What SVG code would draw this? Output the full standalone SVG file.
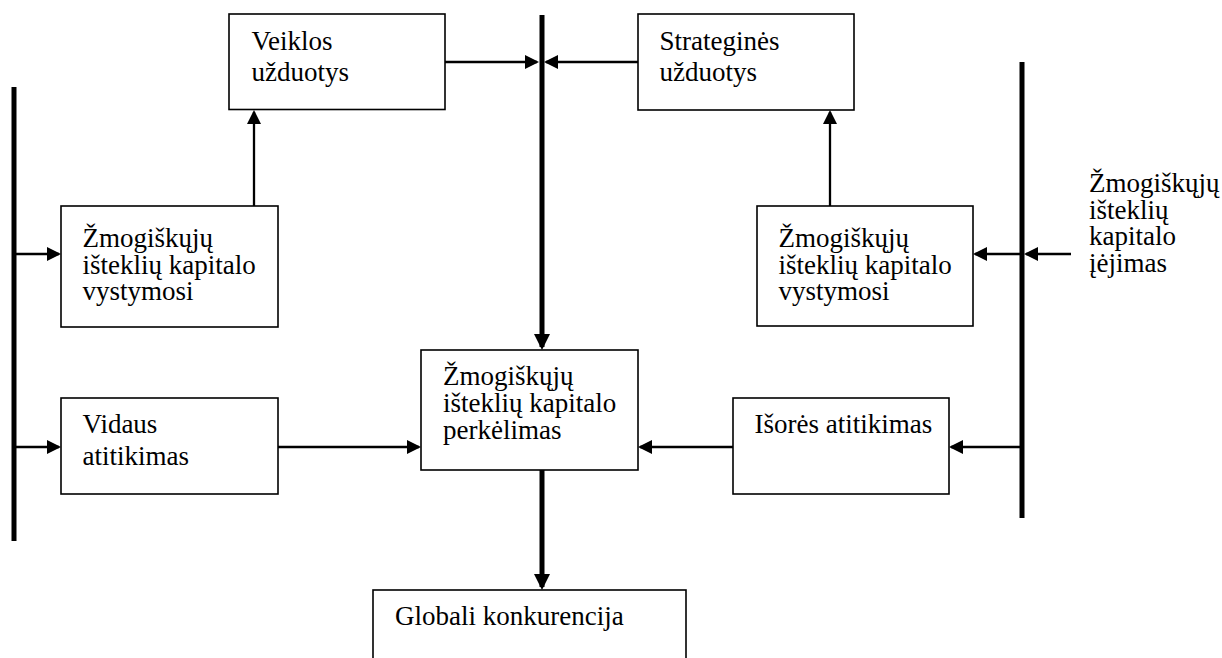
<svg xmlns="http://www.w3.org/2000/svg" width="1222" height="658" viewBox="0 0 1222 658">
  <style>
    .box { fill: #ffffff; stroke: #000000; stroke-width: 1.6; }
    .lbl { font-family: "Liberation Serif", "Times New Roman", serif; font-size: 27px; fill: #000000; }
    .bar { stroke: #000000; stroke-width: 5; fill: none; }
    .thin { stroke: #000000; stroke-width: 2.3; fill: none; marker-end: url(#head); }
    .thick { stroke: #000000; stroke-width: 5; fill: none; marker-end: url(#headBig); }
  </style>
  <defs>
    <marker id="head" viewBox="0 0 14 14" refX="12" refY="7" markerWidth="14" markerHeight="14" markerUnits="userSpaceOnUse" orient="auto">
      <path d="M0,0 L14,7 L0,14 z" fill="#000000"/>
    </marker>
    <marker id="headBig" viewBox="0 0 16 16" refX="13" refY="8" markerWidth="16" markerHeight="16" markerUnits="userSpaceOnUse" orient="auto">
      <path d="M0,0 L16,8 L0,16 z" fill="#000000"/>
    </marker>
  </defs>
  <rect width="1222" height="658" fill="#ffffff"/>

  <!-- bus bars and connectors -->
  <g id="connectors">
    <line class="bar" x1="14" y1="87" x2="14" y2="541"/>
    <line class="bar" x1="1022" y1="62" x2="1022" y2="518"/>
    <line class="thick" x1="542" y1="15" x2="542" y2="347"/>
    <line class="thick" x1="542" y1="470" x2="542" y2="587"/>

    <line class="thin" x1="445" y1="62" x2="537" y2="62"/>
    <line class="thin" x1="638" y1="62" x2="546" y2="62"/>

    <line class="thin" x1="254" y1="206" x2="254" y2="112"/>
    <line class="thin" x1="830" y1="206" x2="830" y2="112"/>

    <line class="thin" x1="16" y1="254" x2="59" y2="254"/>
    <line class="thin" x1="16" y1="447" x2="59" y2="447"/>

    <line class="thin" x1="1020" y1="254" x2="975" y2="254"/>
    <line class="thin" x1="1071" y1="254" x2="1026" y2="254"/>
    <line class="thin" x1="1020" y1="447" x2="951" y2="447"/>

    <line class="thin" x1="278" y1="447" x2="419" y2="447"/>
    <line class="thin" x1="733" y1="447" x2="640" y2="447"/>
  </g>

  <g id="veiklos-uzduotys">
    <rect class="box" x="229" y="14" width="216" height="95.5"/>
    <text class="lbl" x="251.5" y="50">Veiklos</text>
    <text class="lbl" x="251.5" y="81">užduotys</text>
  </g>

  <g id="strategines-uzduotys">
    <rect class="box" x="638" y="14" width="216" height="96"/>
    <text class="lbl" x="659.5" y="49.5">Strateginės</text>
    <text class="lbl" x="659.5" y="81">užduotys</text>
  </g>

  <g id="vystymosi-vidinis">
    <rect class="box" x="61" y="206" width="217" height="121"/>
    <text class="lbl" x="82.5" y="246.5">Žmogiškųjų</text>
    <text class="lbl" x="82.5" y="273.5">išteklių kapitalo</text>
    <text class="lbl" x="82.5" y="300">vystymosi</text>
  </g>

  <g id="vystymosi-isorinis">
    <rect class="box" x="757" y="206" width="216" height="120"/>
    <text class="lbl" x="778.5" y="246.5">Žmogiškųjų</text>
    <text class="lbl" x="778.5" y="273.5">išteklių kapitalo</text>
    <text class="lbl" x="778.5" y="300">vystymosi</text>
  </g>

  <g id="iejimas">
    <text class="lbl" x="1089" y="191.5">Žmogiškųjų</text>
    <text class="lbl" x="1089" y="218.5">išteklių</text>
    <text class="lbl" x="1089" y="245">kapitalo</text>
    <text class="lbl" x="1089" y="271.5">įėjimas</text>
  </g>

  <g id="vidaus-atitikimas">
    <rect class="box" x="61" y="398" width="217" height="96"/>
    <text class="lbl" x="82.5" y="432.5">Vidaus</text>
    <text class="lbl" x="82.5" y="465">atitikimas</text>
  </g>

  <g id="perkelimas">
    <rect class="box" x="421" y="350" width="217" height="120"/>
    <text class="lbl" x="443" y="384.5">Žmogiškųjų</text>
    <text class="lbl" x="443" y="411.5">išteklių kapitalo</text>
    <text class="lbl" x="443" y="439">perkėlimas</text>
  </g>

  <g id="isores-atitikimas">
    <rect class="box" x="733" y="398" width="216" height="96"/>
    <text class="lbl" x="754.5" y="433">Išorės atitikimas</text>
  </g>

  <g id="globali-konkurencija">
    <rect class="box" x="373" y="590" width="313" height="100"/>
    <text class="lbl" x="395" y="625">Globali konkurencija</text>
  </g>
</svg>
